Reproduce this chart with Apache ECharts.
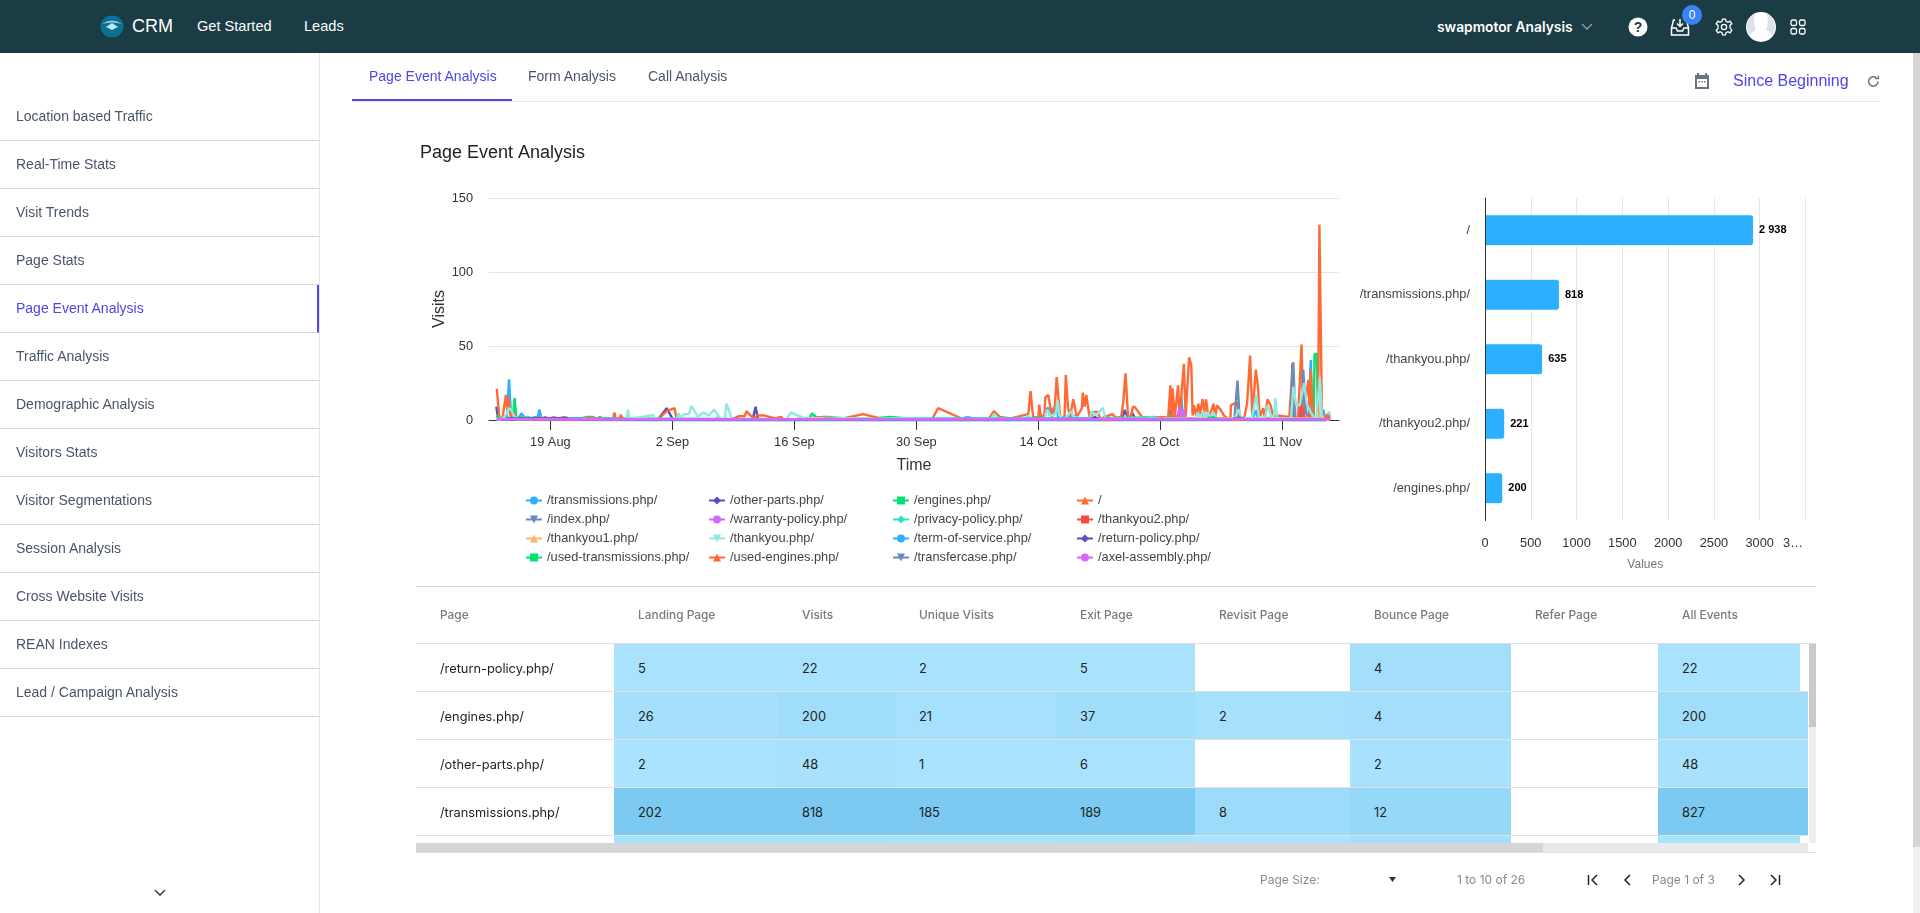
<!DOCTYPE html>
<html>
<head>
<meta charset="utf-8">
<title>Page Event Analysis</title>
<script src="https://cdn.jsdelivr.net/npm/echarts@6/dist/echarts.min.js"></script>
<style>
html, body { margin: 0; padding: 0; background: #fff; overflow: hidden; font-family: "Liberation Sans", Arial, sans-serif; }
#page { position: relative; width: 1920px; height: 913px; overflow: hidden; }
#chart { position: absolute; left: 0; top: 0; width: 1920px; height: 913px; }
.abs { position: absolute; white-space: nowrap; }
#header { position: absolute; left: 0; top: 0; width: 1920px; height: 53px; background: #1b3c44; color: #fff; }
#sidebar { position: absolute; left: 0; top: 53px; width: 319px; height: 860px; border-right: 1px solid #e3e5ee; }
.side-item { position: absolute; left: 0; width: 319px; height: 48px; line-height: 46px; border-bottom: 1px solid #d5d8e3; padding-left: 16px; box-sizing: border-box; font-size: 14px; color: #4a5568; }
.side-item.active { color: #4f46e5; border-right: 2px solid #4f46e5; }
.tab { position: absolute; top: 68px; font-size: 14px; color: #4a5568; white-space: nowrap; }
#tabline { position: absolute; left: 352px; top: 101px; width: 1528px; height: 1px; background: #e5e7eb; }
#tabactive { position: absolute; left: 352px; top: 99px; width: 160px; height: 2px; background: #4f46e5; }
#divider { position: absolute; left: 416px; top: 586px; width: 1400px; height: 1px; background: #d5d8e3; }
#table { position: absolute; left: 416px; top: 590px; width: 1400px; height: 263px; overflow: hidden; font-family: Inter, sans-serif; }
.th { position: absolute; top: 17px; font-size: 11.9px; font-weight: 500; color: #7a7a7a; white-space: nowrap; }
.cell { position: absolute; height: 47px; line-height: 49px; font-size: 12.8px; color: #222; box-sizing: border-box; padding-left: 24px; white-space: nowrap; }
.rowline { position: absolute; left: 0; width: 1392px; height: 1px; background: #e2e2e2; }
.pager { position: absolute; top: 872px; font-family: Inter, sans-serif; font-size: 12px; color: #8a8a8a; white-space: nowrap; }
</style>
</head>
<body>
<div id="page">
  <div id="chart"></div>
  <div id="header">
    <svg class="abs" style="left:100px;top:15px" width="24" height="23" viewBox="0 0 24 23"><ellipse cx="12" cy="11.5" rx="11.5" ry="11" fill="#0f6f8f"/><path d="M2 9 Q12 2 22 9 Q12 6 2 9Z" fill="#8fd3e8"/><path d="M6 12 L12 8 L18 12 L12 15Z" fill="#bfe6f2"/></svg>
    <div class="abs" style="left:132px;top:16px;font-size:18px">CRM</div>
    <div class="abs" style="left:197px;top:18px;font-size:14.6px">Get Started</div>
    <div class="abs" style="left:304px;top:18px;font-size:14.6px">Leads</div>
    <div class="abs" style="left:1437px;top:19px;font-family:Inter,sans-serif;font-weight:600;font-size:13.8px">swapmotor Analysis</div>
    <svg class="abs" style="left:1581px;top:23px" width="12" height="8" viewBox="0 0 12 8"><path d="M1 1 L6 6 L11 1" fill="none" stroke="#8fa3a8" stroke-width="1.3"/></svg>
    <svg class="abs" style="left:1628px;top:17px" width="20" height="20" viewBox="0 0 20 20"><circle cx="10" cy="10" r="9.5" fill="#fff"/><text x="10" y="15" font-size="14" font-weight="700" text-anchor="middle" fill="#1b3c44">?</text></svg>
    <svg class="abs" style="left:1670px;top:17px" width="20" height="20" viewBox="0 0 20 20" fill="none" stroke="#fff" stroke-width="1.5"><path d="M5 3 H3.5 L1.5 11 V18 H18.5 V11 L16.5 3 H15"/><path d="M1.5 11 H6 L7.5 14 H12.5 L14 11 H18.5"/><path d="M10 2 V9 M7 6.5 L10 9.5 L13 6.5"/></svg>
    <div class="abs" style="left:1682px;top:5px;width:20px;height:20px;border-radius:10px;background:#3b82f6;text-align:center;line-height:20px;font-size:12px">0</div>
    <svg class="abs" style="left:1715px;top:18px" width="18" height="18" viewBox="0 0 18 18" fill="none" stroke="#fff" stroke-width="1.3"><circle cx="9" cy="9" r="2.6"/><path d="M7.5 1.2 H10.5 L11 3.4 L13 4.3 L15 3.2 L16.8 5.8 L15 7.2 V9.8 L16.8 12.2 L15 14.8 L13 13.7 L11 14.6 L10.5 16.8 H7.5 L7 14.6 L5 13.7 L3 14.8 L1.2 12.2 L3 10.8 V7.2 L1.2 5.8 L3 3.2 L5 4.3 L7 3.4Z"/></svg>
    <svg class="abs" style="left:1746px;top:12px" width="30" height="30" viewBox="0 0 30 30"><circle cx="15" cy="15" r="15" fill="#fff"/><path d="M1 15 A14 14 0 0 1 9 2 Q7 12 10 18 Q5 20 4 24 Q1 20 1 15Z M29 15 A14 14 0 0 0 21 2 Q23 12 20 18 Q25 20 26 24 Q29 20 29 15Z" fill="#dde1ea"/></svg>
    <svg class="abs" style="left:1790px;top:19px" width="16" height="16" viewBox="0 0 16 16" fill="none" stroke="#fff" stroke-width="1.3"><rect x="1" y="1" width="5.5" height="5.5" rx="1.5"/><rect x="9.5" y="1" width="5.5" height="5.5" rx="1.5"/><rect x="1" y="9.5" width="5.5" height="5.5" rx="1.5"/><rect x="9.5" y="9.5" width="5.5" height="5.5" rx="1.5"/></svg>
  </div>
  <div id="sidebar"></div>
  <svg class="abs" style="left:154px;top:889px" width="12" height="8" viewBox="0 0 12 8"><path d="M1 1 L6 6 L11 1" fill="none" stroke="#444" stroke-width="1.6"/></svg>
  <div id="tabline"></div>
  <div id="tabactive"></div>
  <div class="tab" style="left:369px;color:#4f46e5">Page Event Analysis</div>
  <div class="tab" style="left:528px">Form Analysis</div>
  <div class="tab" style="left:648px">Call Analysis</div>
  <svg class="abs" style="left:1694px;top:72px" width="16" height="18" viewBox="0 0 16 18"><path d="M1 3 H3 V1 H5 V3 H11 V1 H13 V3 H15 V17 H1Z M3 7 V15 H13 V7Z" fill="#6b7280"/><rect x="4.5" y="9" width="1.5" height="1.5" fill="#6b7280"/><rect x="7.25" y="9" width="1.5" height="1.5" fill="#6b7280"/><rect x="10" y="9" width="1.5" height="1.5" fill="#6b7280"/></svg>
  <div class="abs" style="left:1733px;top:72px;font-size:16px;color:#4f46e5">Since Beginning</div>
  <svg class="abs" style="left:1867px;top:75px" width="13" height="13" viewBox="0 0 13 13" fill="none" stroke="#6b7280" stroke-width="1.5"><path d="M11 6.5 A4.7 4.7 0 1 1 9.5 3"/><path d="M8.2 3.6 H11.4 V0.6" stroke-width="1.3"/></svg>
  <div id="divider"></div>
  <div id="table"></div>
  <div class="pager" style="left:1260px">Page Size:</div>
  <svg class="abs" style="left:1388px;top:877px" width="9" height="6" viewBox="0 0 9 6"><path d="M1 0 H8 L4.5 5Z" fill="#333"/></svg>
  <div class="pager" style="left:1457px">1 to 10 of 26</div>
  <svg class="abs" style="left:1587px;top:874px" width="12" height="12" viewBox="0 0 12 12" fill="none" stroke="#222" stroke-width="1.5"><path d="M1.5 1 V11 M10 1 L5 6 L10 11"/></svg>
  <svg class="abs" style="left:1622px;top:874px" width="12" height="12" viewBox="0 0 12 12" fill="none" stroke="#222" stroke-width="1.5"><path d="M8 1 L3 6 L8 11"/></svg>
  <div class="pager" style="left:1652px">Page 1 of 3</div>
  <svg class="abs" style="left:1735px;top:874px" width="12" height="12" viewBox="0 0 12 12" fill="none" stroke="#222" stroke-width="1.5"><path d="M4 1 L9 6 L4 11"/></svg>
  <svg class="abs" style="left:1769px;top:874px" width="12" height="12" viewBox="0 0 12 12" fill="none" stroke="#222" stroke-width="1.5"><path d="M10.5 1 V11 M2 1 L7 6 L2 11"/></svg>
  <div class="abs" style="left:1913px;top:53px;width:7px;height:860px;background:#f1f1f1"></div>
  <div class="abs" style="left:1913px;top:53px;width:7px;height:794px;background:#d6d6d6"></div>
</div>

<script>
// sidebar + table text
const sideMenu = ['Location based Traffic', 'Real-Time Stats', 'Visit Trends', 'Page Stats', 'Page Event Analysis', 'Traffic Analysis', 'Demographic Analysis', 'Visitors Stats', 'Visitor Segmentations', 'Session Analysis', 'Cross Website Visits', 'REAN Indexes', 'Lead / Campaign Analysis'];
const tableHeads = ['Page', 'Landing Page', 'Visits', 'Unique Visits', 'Exit Page', 'Revisit Page', 'Bounce Page', 'Refer Page', 'All Events'];
const tablePages = ['/return-policy.php/', '/engines.php/', '/other-parts.php/', '/transmissions.php/'];
const landingCol = [5, 26, 2, 202];
const visitsCol = [22, 200, 48, 818];
const uniqueCol = [2, 21, 1, 185];
const exitCol = [5, 37, 6, 189];
const revisitCol = [null, 2, null, 8];
const bounceCol = [4, 4, 2, 12];
const referCol = [null, null, null, null];
const eventsCol = [22, 200, 48, 827];

// bar chart
const barPages = ['/', '/transmissions.php/', '/thankyou.php/', '/thankyou2.php/', '/engines.php/'];
const barVisits = [2938, 818, 635, 221, 200];
const barTickLabels = ['0', '500', '1000', '1500', '2000', '2500', '3000', '3…       '];

// line chart, points are [days after 19 Aug, visits]
const timeTicks = ['2023-08-19', '2023-09-02', '2023-09-16', '2023-09-30', '2023-10-14', '2023-10-28', '2023-11-11'];
const transmissionsLine = [[-6.2,0],[-5,1],[-4.74,27.5],[-4.5,1],[-3.7,1],[-3.3,4.5],[-2.9,1],[-1.5,0.5],[-1.26,7],[-1,0.5],[1,1],[3,1],[6,1],[10,0],[50,0],[55,0],[56,1],[56.5,2],[57.1,8.5],[57.3,3],[57.5,8],[57.7,4],[57.9,9],[58.1,7],[58.3,1],[59.3,1],[59.6,3],[59.9,1],[60.2,3],[60.4,0],[66,0],[71,1],[72.2,1],[72.4,16.4],[72.6,1],[80.6,1],[81,6.7],[81.2,1],[85,2],[85.26,39],[85.5,1],[87,1],[87.26,40.5],[87.45,1],[88.6,2],[88.7,7],[88.9,1],[89.5,0]];
const otherPartsLine = [[-6.2,9],[-6,1],[-5.5,0],[-2,0.5],[12.3,0],[13.35,8],[14.1,0],[23.2,0],[23.55,9],[23.85,0],[65.6,0],[65.9,6.7],[66.1,6.7],[66.4,0],[66.6,0],[66.75,5],[66.95,5],[67.2,0],[70.9,0],[71.2,6.3],[71.5,0],[72,1],[86,0],[89.5,0]];
const enginesLine = [[-6.2,3],[-6,2],[-5.6,1],[-4.3,1],[-4.1,15],[-3.9,1],[-2.8,2],[-2.3,1],[-1.8,2],[-1,1],[29.7,0],[30,4.5],[30.6,1.5],[31,0],[33.5,0.5],[37,1],[39,2],[41,1],[43,0.5],[64,0],[70.8,1],[71,4],[71.5,1],[87,1],[87.6,1],[87.7,44.6],[87.95,44.6],[88.1,1],[89.5,0]];
const homeLine = [[-6.15,21],[-5.85,2],[-5.5,1],[-5.1,17],[-4.95,7],[-4.8,15],[-4.55,2],[-4.2,5],[-3.85,1],[-3,2],[-2.5,1],[-1.9,1],[-1.4,2],[-1,1],[-0.6,2],[-0.1,1],[0.35,2],[0.9,1],[1.7,2],[2.4,0.5],[3.5,1],[4.2,2],[4.9,2],[5.3,1],[5.7,2],[6.2,0.5],[7.2,0.5],[7.35,5],[7.5,1],[7.9,1],[8.1,3.5],[8.3,0.5],[12.3,0],[13.35,6],[14.25,8],[14.5,0.5],[15.5,0],[19,0.5],[19.3,2],[19.7,0],[20.8,0.5],[21.6,2.5],[22.3,2.5],[22.5,6],[23.3,1],[23.7,3],[24.6,3],[25.8,1],[26.5,2],[26.8,0],[29,1],[31.3,2],[32,2],[33.6,1],[35.9,4],[38.2,0.5],[43.8,0.5],[44.5,8],[47.2,1],[47.5,0],[50.3,0.5],[50.9,6],[51.6,2],[52.8,1],[54.85,4],[55.1,19.5],[55.4,2],[56,1.5],[56.1,10.4],[56.3,1.5],[56.7,3.4],[56.8,15.3],[57,15],[57.15,17],[57.55,2],[57.9,10],[58.1,29],[58.3,29],[58.5,2],[59,2],[59.15,30.4],[59.4,8.5],[59.65,2],[60,14],[60.2,15.3],[60.4,2],[61,8],[61.1,18.5],[61.3,9],[61.5,17],[61.9,1],[62.4,5.4],[62.8,5.4],[63.1,1],[64.5,4],[64.9,1.5],[65.5,2],[65.75,12.4],[66,31.5],[66.15,31.5],[66.3,2],[66.6,1.5],[66.85,9],[67.1,8.5],[67.9,2],[68.7,1],[70.15,2],[70.9,1.5],[71.15,23.4],[71.3,2],[71.4,21.4],[71.65,2],[72.03,23.4],[72.2,2],[72.7,38],[72.9,2],[73.3,42.3],[73.4,41.5],[73.55,37],[73.7,3],[73.85,10],[74.1,3],[74.35,11],[74.55,4],[74.85,14],[75.05,5],[75.25,14],[75.5,2],[75.9,7],[76.1,11],[76.3,2],[76.5,10],[76.9,7],[77.1,7],[77.3,3],[77.7,1],[78.05,2],[78.1,10],[78.8,12],[79,2],[79.4,1],[79.65,2],[79.95,11],[80.3,43.5],[80.55,2],[80.95,34],[81.2,22.5],[81.4,2],[81.8,8],[82,1],[82.3,14],[82.65,10],[82.95,2],[83.35,3],[84.8,2],[84.95,1],[85.2,39],[85.35,2],[85.8,1],[86.2,51],[86.4,2],[86.8,19],[87,27],[87.15,1],[87.25,34],[87.55,2],[88.1,1],[88.25,132],[88.4,132],[88.55,2],[88.8,1],[89.1,3.4],[89.3,3.4],[89.4,0]];
const indexLine = [[-6.1,0],[-3,1],[50,0],[78.5,1],[78.85,26.6],[79,26.6],[79.1,1],[85,1],[85.15,38],[85.3,1],[86.2,1],[86.4,34],[86.7,5],[87,1],[89,0]];
const warrantyLine = [[-3,1],[0,0.5],[5,0.5],[47,0.5],[47.8,2],[49,0.5],[71.8,0],[72.2,8],[72.4,2],[72.6,7],[72.8,7],[73,0],[74.5,1],[75,5],[75.2,0],[89,0]];
const privacyLine = [[-6,1],[-4,1],[-2.5,2],[-2,1],[28,0.5],[33,1],[36,0.5],[43,1],[64,1],[69.4,2],[70,0.5],[89,0]];
const thankyou2Line = [[72,0],[86,1],[86.1,11],[86.3,11],[86.6,1],[87,0.5],[88.7,2],[89,1],[89.4,0]];
const thankyou1Line = [[56,0],[60,1],[80,1],[88,1],[88.2,5],[88.4,0],[89.4,0]];
const thankyouLine = [[-6.1,0],[-5.5,1],[-5,4],[-4.8,8],[-4.5,7],[-4.2,3],[-3.8,0.5],[8.75,0],[8.9,7],[9.1,1],[10.5,2],[11.8,3.4],[12,0],[14.5,0],[14.7,4.5],[15,1],[15.3,4],[15.9,4],[16.2,9.5],[16.9,2.2],[17.6,5],[18.2,3],[18.8,7],[19.5,1],[20,0],[20.2,11],[20.9,0],[27,0],[27.6,5],[29.3,1],[33,1.5],[36,0.5],[40,1],[44,0.5],[50.5,0],[50.9,4],[51.4,1],[53,0.5],[54.5,1.5],[54.9,3],[55.2,0],[56.7,1],[57,7],[57.4,3],[58,4],[58.2,13.5],[58.4,3],[59,0.5],[59.8,6],[60.1,2],[61.9,0],[62.1,6],[62.6,3],[63,5.5],[63.4,8.3],[63.7,1],[64.5,1.5],[65,0],[68,0],[69,1.5],[70,0],[71,1],[72,0.5],[74,0.5],[74.3,5],[74.6,1],[74.9,6],[75.2,1],[75.5,5],[75.8,1],[76.1,5],[76.4,1],[77,0],[78.5,1],[79,7],[79.3,1],[80.5,1],[81,17],[81.3,2],[82,1],[82.3,10],[82.7,3],[83,1],[83.2,15],[83.4,1],[85,1],[85.26,22.5],[85.6,10],[86,10],[86.5,25],[86.8,11],[87.2,6],[87.5,3],[87.9,1],[88.3,29],[88.55,1],[89,3],[89.4,5.6],[89.5,0]];
const termsLine = [[-4,0.5],[-1,1],[20,0],[60,1],[60.2,0],[89,0]];
const returnLine = [[-5,1],[2,1],[2.5,0],[62,0],[62.5,2],[63,0],[85,0],[89,0]];
const usedTransmissionsLine = [[-4,1],[-3,0],[30,0],[32,1],[35,0],[75,0],[76,2],[77,0],[89,0]];
const usedEnginesLine = [[-3,1],[-2,0],[8,0],[8.2,2],[8.5,0],[88.8,0],[89,3],[89.3,3],[89.4,0]];
const transfercaseLine = [[-2,0.5],[10,0],[63,0],[64,1],[65,0],[78,0],[79,2],[80,0],[89,0]];
const axelLine = [[-6.1,0.5],[89.4,0.5]];

const lineSeries = [
    ['/transmissions.php/', transmissionsLine],
    ['/other-parts.php/', otherPartsLine],
    ['/engines.php/', enginesLine],
    ['/', homeLine],
    ['/index.php/', indexLine],
    ['/warranty-policy.php/', warrantyLine],
    ['/privacy-policy.php/', privacyLine],
    ['/thankyou2.php/', thankyou2Line],
    ['/thankyou1.php/', thankyou1Line],
    ['/thankyou.php/', thankyouLine],
    ['/term-of-service.php/', termsLine],
    ['/return-policy.php/', returnLine],
    ['/used-transmissions.php/', usedTransmissionsLine],
    ['/used-engines.php/', usedEnginesLine],
    ['/transfercase.php/', transfercaseLine],
    ['/axel-assembly.php/', axelLine]
];
const palette = ['#2caffe', '#544fc5', '#00e272', '#fe6a35', '#6b8abc', '#d568fb', '#2ee0ca', '#fa4b42', '#feb56a', '#91e8e1'];
const symbols = ['circle', 'diamond', 'rect', 'triangle', 'path://M0 0 L10 0 L5 10Z'];
const DAY = 86400000;
const startTime = new Date(timeTicks[0] + 'T00:00:00').getTime();
const tickTimes = timeTicks.map(t => new Date(t + 'T00:00:00').getTime());

// heat colour of a table cell, scaled on its column
const heatLow = [170, 227, 253], heatHigh = [124, 201, 241];
function heatColor(v, top) {
    if (v == null) return '#fff';
    const t = Math.min(1, v / top);
    return 'rgb(' + heatLow.map((c, i) => Math.round(c + (heatHigh[i] - c) * t)).join(',') + ')';
}

const sidebar = document.getElementById('sidebar');
sideMenu.forEach((name, i) => {
    const d = document.createElement('div');
    d.className = 'side-item' + (name === 'Page Event Analysis' ? ' active' : '');
    d.style.top = (40 + i * 48) + 'px';
    d.textContent = name;
    sidebar.appendChild(d);
});

// table
const colX = [0, 198, 362, 479, 640, 779, 934, 1095, 1242];
const colEnd = 1392;
const table = document.getElementById('table');
function addCell(cls, x, y, w, text, bg) {
    const d = document.createElement('div');
    d.className = cls;
    d.style.left = x + 'px';
    if (y !== null) d.style.top = y + 'px';
    if (w) d.style.width = w + 'px';
    if (bg) d.style.background = bg;
    d.textContent = text;
    table.appendChild(d);
}
tableHeads.forEach((h, i) => addCell('th', colX[i] + 24, null, 0, h));
const tableCols = [landingCol, visitsCol, uniqueCol, exitCol, revisitCol, bounceCol, referCol, eventsCol];
const colTop = [202, 818, 185, 189, 26, 28, 1, 827];
tablePages.forEach((p, r) => {
    const y = 54 + r * 48;
    addCell('cell', 0, y, colX[1], p);
    tableCols.forEach((col, c) => {
        let w = (c < 7 ? colX[c + 2] : colEnd) - colX[c + 1];
        if (c === 7 && r === 0) w -= 8;
        addCell('cell', colX[c + 1], y, w, col[r] == null ? '' : col[r], heatColor(col[r], colTop[c]));
    });
});
// fifth row is cut by the scrollbar, only its colour shows
const cutRowShade = [5, 22, 2, 5, 0.5, 4, null, 22];
cutRowShade.forEach((v, c) => {
    let w = (c < 7 ? colX[c + 2] : colEnd) - colX[c + 1] - (c === 7 ? 8 : 0);
    addCell('cell', colX[c + 1], 246, w, '', heatColor(v, colTop[c]));
});
[53, 101, 149, 197, 245].forEach(y => {
    const d = document.createElement('div');
    d.className = 'rowline';
    d.style.top = y + 'px';
    table.appendChild(d);
});
[[0, 253, 1392, 9, '#e9e9e9'], [0, 253, 1127, 9, '#d6d6d6'], [1393, 54, 7, 199, '#eeeeee'], [1393, 54, 7, 83, '#c9c9c9'], [0, 262, 1400, 1, '#e2e2e2'], [1392, 53, 8, 1, '#e2e2e2']].forEach(b => {
    const d = document.createElement('div');
    d.style.cssText = 'position:absolute;left:' + b[0] + 'px;top:' + b[1] + 'px;width:' + b[2] + 'px;height:' + b[3] + 'px;background:' + b[4];
    table.appendChild(d);
});

const axisFont = { fontFamily: 'Liberation Sans', fontSize: 12.8, color: '#333' };
const legendCols = [[0, 4, 8, 12], [1, 5, 9, 13], [2, 6, 10, 14], [3, 7, 11, 15]];
const legendX = [525, 708, 892, 1076];

const chart = echarts.init(document.getElementById('chart'), null, { renderer: 'canvas' });
chart.setOption({
    animation: false,
    title: { text: 'Page Event Analysis', left: 420, top: 144, padding: 0, textStyle: { fontFamily: 'Liberation Sans', fontSize: 18, fontWeight: 'normal', color: '#222' } },
    legend: legendCols.map((idx, i) => ({
        orient: 'vertical',
        left: legendX[i],
        top: 494,
        padding: 0,
        itemWidth: 16,
        itemHeight: 10,
        itemGap: 6,
        selectedMode: false,
        textStyle: { fontFamily: 'Liberation Sans', fontSize: 12.8, color: '#444' },
        data: idx.map(k => lineSeries[k][0])
    })),
    grid: [
        { left: 489, top: 198, width: 850, height: 222, containLabel: false },
        { left: 1485, top: 198, width: 320.5, height: 322.5, containLabel: false }
    ],
    xAxis: [{
        type: 'value',
        gridIndex: 0,
        min: startTime - 7.04 * DAY,
        max: startTime + 90.5 * DAY,
        name: 'Time',
        nameLocation: 'middle',
        nameGap: 38,
        nameTextStyle: { fontFamily: 'Liberation Sans', fontSize: 16, color: '#333' },
        axisLine: { show: true, lineStyle: { color: '#333', width: 1 } },
        axisTick: { show: true, length: 10, lineStyle: { color: '#333' }, customValues: tickTimes },
        axisLabel: {
            ...axisFont,
            margin: 16,
            customValues: tickTimes,
            formatter: v => echarts.time.format(v, '{d} {MMM}', false)
        },
        splitLine: { show: false }
    }, {
        type: 'value',
        gridIndex: 1,
        min: 0,
        max: 3500,
        interval: 500,
        name: 'Values',
        nameLocation: 'middle',
        nameGap: 38,
        nameTextStyle: { fontFamily: 'Liberation Sans', fontSize: 12, color: '#777' },
        axisLine: { show: false },
        axisTick: { show: false },
        axisLabel: { ...axisFont, margin: 16, hideOverlap: false, formatter: (v, i) => barTickLabels[i] },
        splitLine: { show: true, lineStyle: { color: '#e6e6e6', width: 1 } }
    }],
    yAxis: [{
        type: 'value',
        gridIndex: 0,
        min: 0,
        max: 150,
        interval: 50,
        name: 'Visits',
        nameLocation: 'middle',
        nameGap: 41,
        nameTextStyle: { fontFamily: 'Liberation Sans', fontSize: 16, color: '#333' },
        axisLine: { show: false },
        axisTick: { show: false },
        axisLabel: { ...axisFont, margin: 16, padding: [4, 0, 0, 0] },
        splitLine: { show: true, lineStyle: { color: '#e6e6e6', width: 1 } }
    }, {
        type: 'category',
        gridIndex: 1,
        inverse: true,
        z: 5,
        data: barPages,
        axisLine: { show: true, lineStyle: { color: '#333', width: 1 } },
        axisTick: { show: false },
        axisLabel: { ...axisFont, color: '#444', margin: 15, interval: 0 },
        splitLine: { show: false }
    }],
    series: lineSeries.map((s, i) => ({
        name: s[0],
        type: 'line',
        xAxisIndex: 0,
        yAxisIndex: 0,
        symbol: symbols[i % symbols.length],
        symbolSize: 8,
        showSymbol: false,
        color: palette[i % palette.length],
        lineStyle: { width: 2.4 },
        emphasis: { disabled: true },
        data: s[1].map(p => [startTime + p[0] * DAY, p[1]])
    })).concat([{
        type: 'bar',
        xAxisIndex: 1,
        yAxisIndex: 1,
        barWidth: 32,
        data: barVisits,
        itemStyle: { color: '#2caffe', borderColor: '#fff', borderWidth: 1, borderRadius: [0, 3, 3, 0] },
        label: {
            show: true,
            position: 'right',
            distance: 5,
            padding: [4, 0, 0, 0],
            fontFamily: 'Liberation Sans',
            fontSize: 11,
            fontWeight: 'bold',
            color: '#000',
            formatter: p => String(p.value).replace(/\B(?=(\d{3})+$)/g, ' ')
        },
        emphasis: { disabled: true }
    }])
});
window.addEventListener('resize', () => chart.resize());
</script>
</body>
</html>
